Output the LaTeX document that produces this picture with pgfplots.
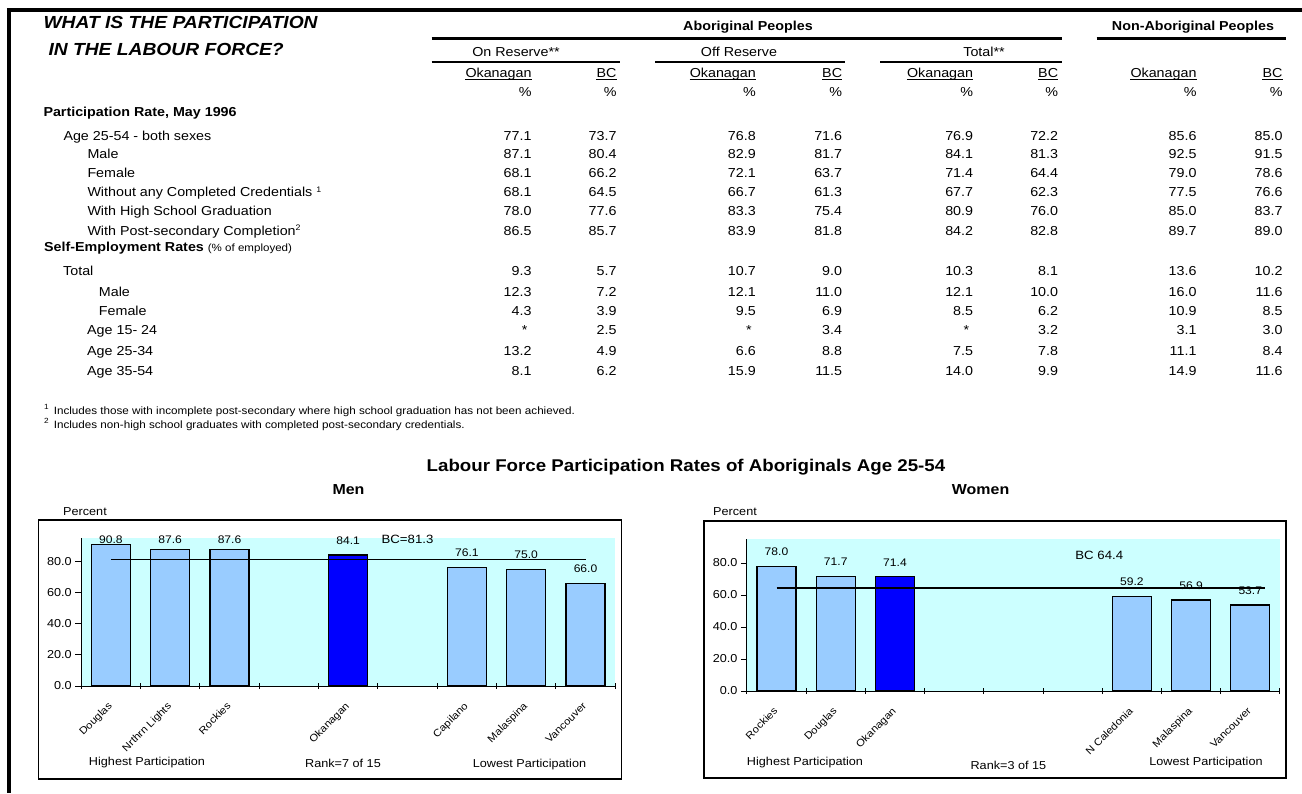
\documentclass[border=0pt]{standalone}
\usepackage{fontspec}
\setmainfont{Liberation Sans}[FakeStretch=1.1]
\usepackage{pgfplots}
\pgfplotsset{compat=1.18}
\usepackage{pgfplotstable}
\definecolor{barlight}{HTML}{99CCFF}
\definecolor{barok}{HTML}{0000FF}
\definecolor{bgcyan}{HTML}{CCFFFF}
\newcommand{\fs}[1]{\fontsize{#1}{#1}\selectfont}
\newcommand{\st}{*\kern4pt}
\newcommand{\tvals}[2]{%
  \foreach \v [count=\i] in {#2} {
    \pgfmathsetmacro{\cx}{{531.7,616.7,756,842.3,973.3,1058.3,1196.7,1282.7}[\i-1]}
    \node[anchor=base east, inner sep=0, font=\fs{13}] at (\cx,-#1) {\v};
  }}
\newcommand{\tlab}[3]{\node[anchor=base west, inner sep=0, font=\fs{13}] at (#1,-#2) {#3};}
\newcommand{\uh}[3]{%
  \node[anchor=base east, inner sep=0, font=\fs{13}] (#3) at (#1,-77) {#2};
  \draw[line width=0.9pt] ([yshift=-2.5pt]#3.base west) -- ([yshift=-2.5pt]#3.base east);
  \node[anchor=base east, inner sep=0, font=\fs{13}] at (#1,-96.5) {\%};}

\pgfplotsset{
 regchart/.style={
   scale only axis,
   xmin=-0.5, xmax=8.5, ymin=0, ymax=95,
   axis x line*=bottom, axis y line*=left,
   axis line style={black, line width=0.9pt},
   axis background/.style={fill=bgcyan},
   xtick={-0.5,0.5,1.5,2.5,3.5,4.5,5.5,6.5,7.5,8.5}, xticklabels={},
   ytick={0,20,40,60,80}, yticklabels={0.0,20.0,40.0,60.0,80.0},
   xtick align=center, ytick align=outside,
   major tick length=6pt,
   tick style={black, line width=0.9pt},
   yticklabel style={font=\fs{11.5}},
   extra x tick style={major tick length=0pt,
      xticklabel style={rotate=45, anchor=north east, font=\fs{10.2}, xshift=-10pt, yshift=-5pt}},
   clip=false,
 },
 regbar/.style={ybar, bar width=39pt, bar shift=0pt, draw=black, line width=1.2pt},
 reglab/.style={draw=none, mark=none, nodes near coords=\pgfplotspointmeta,
   point meta=explicit symbolic,
   every node near coord/.append style={font=\fs{11}, black}},
}

\begin{document}
\begin{tikzpicture}
\begin{scope}[x=1pt,y=1pt]
\useasboundingbox (0,0) rectangle (1302,-793);
\fill[white] (0,0) rectangle (1302,-793);
% page border
\draw[line width=3.5pt] (6.8,-9.8) -- (1302,-9.8);
\draw[line width=4.5pt] (9,-8) -- (9,-793);
% title
\node[anchor=base west, inner sep=0, font=\fs{17.5}\bfseries\itshape] at (43.3,-28) {WHAT IS THE PARTICIPATION};
\node[anchor=base west, inner sep=0, font=\fs{17.5}\bfseries\itshape] at (48.3,-55) {IN THE LABOUR FORCE?};
% headers
\node[anchor=base, inner sep=0, font=\fs{13}\bfseries] at (748,-30) {Aboriginal Peoples};
\node[anchor=base, inner sep=0, font=\fs{13}\bfseries] at (1193,-30) {Non-Aboriginal Peoples};
\draw[line width=3.5pt] (431.7,-38.3) -- (1061.7,-38.3);
\draw[line width=3.5pt] (1096.7,-38.3) -- (1286,-38.3);
\node[anchor=base, inner sep=0, font=\fs{13}] at (516,-56.7) {On Reserve**};
\node[anchor=base, inner sep=0, font=\fs{13}] at (739,-56.7) {Off Reserve};
\node[anchor=base, inner sep=0, font=\fs{13}] at (984,-56.7) {Total**};
\draw[line width=2pt] (431.7,-62.3) -- (620,-62.3);
\draw[line width=2pt] (655,-62.3) -- (845,-62.3);
\draw[line width=2pt] (880,-62.3) -- (1061.7,-62.3);
\uh{531.7}{Okanagan}{h1}\uh{616.7}{BC}{h2}
\uh{756}{Okanagan}{h3}\uh{842.3}{BC}{h4}
\uh{973.3}{Okanagan}{h5}\uh{1058.3}{BC}{h6}
\uh{1196.7}{Okanagan}{h7}\uh{1282.7}{BC}{h8}
% participation rows
\node[anchor=base west, inner sep=0, font=\fs{13}\bfseries] at (43.3,-116) {Participation Rate, May 1996};
\tlab{63.3}{140}{Age 25-54 - both sexes}
\tvals{140}{77.1,73.7,76.8,71.6,76.9,72.2,85.6,85.0}
\tlab{87.3}{158.7}{Male}
\tvals{158.7}{87.1,80.4,82.9,81.7,84.1,81.3,92.5,91.5}
\tlab{87.3}{177.4}{Female}
\tvals{177.4}{68.1,66.2,72.1,63.7,71.4,64.4,79.0,78.6}
\tlab{87.3}{196.6}{Without any Completed Credentials \textsuperscript{\fs{8}1}}
\tvals{196.6}{68.1,64.5,66.7,61.3,67.7,62.3,77.5,76.6}
\tlab{87.3}{215.9}{With High School Graduation}
\tvals{215.9}{78.0,77.6,83.3,75.4,80.9,76.0,85.0,83.7}
\tlab{87.3}{235.3}{With Post-secondary Completion\textsuperscript{\fs{8}2}}
\tvals{235.3}{86.5,85.7,83.9,81.8,84.2,82.8,89.7,89.0}
% self-employment rows
\node[anchor=base west, inner sep=0] at (44,-251) {\fs{13}\bfseries Self-Employment Rates \fs{10.5}\mdseries(\% of employed)};
\tlab{63}{275}{Total}
\tvals{275}{9.3,5.7,10.7,9.0,10.3,8.1,13.6,10.2}
\tlab{98.7}{296.5}{Male}
\tvals{296.5}{12.3,7.2,12.1,11.0,12.1,10.0,16.0,11.6}
\tlab{98.7}{315.5}{Female}
\tvals{315.5}{4.3,3.9,9.5,6.9,8.5,6.2,10.9,8.5}
\tlab{87}{334}{Age 15- 24}
\tvals{334}{\st,2.5,\st,3.4,\st,3.2,3.1,3.0}
\tlab{87}{355}{Age 25-34}
\tvals{355}{13.2,4.9,6.6,8.8,7.5,7.8,11.1,8.4}
\tlab{87}{375}{Age 35-54}
\tvals{375}{8.1,6.2,15.9,11.5,14.0,9.9,14.9,11.6}
% footnotes
\node[anchor=base west, inner sep=0, font=\fs{7.5}] at (44,-409) {1};
\node[anchor=base west, inner sep=0, font=\fs{10.6}] at (53.6,-414) {Includes those with incomplete post-secondary where high school graduation has not been achieved.};
\node[anchor=base west, inner sep=0, font=\fs{7.5}] at (44,-423) {2};
\node[anchor=base west, inner sep=0, font=\fs{10.6}] at (53.6,-428) {Includes non-high school graduates with completed post-secondary credentials.};
% chart titles
\node[font=\fs{17}\bfseries] at (686,-467.5) {Labour Force Participation Rates of Aboriginals Age 25-54};
\node[font=\fs{14.5}\bfseries] at (348.5,-490) {Men};
\node[font=\fs{14.5}\bfseries] at (980.6,-490) {Women};
% boxes
\draw[line width=1.3pt] (38.7,-520) rectangle (621.6,-779);
\draw[line width=1.3pt] (704,-521) rectangle (1286,-778);
\node[font=\fs{11.5}] at (85,-512) {Percent};
\node[font=\fs{11.5}] at (735,-512) {Percent};
\node[font=\fs{11.5}] at (147,-763) {Highest Participation};
\node[font=\fs{11.5}] at (343,-763) {Rank=7 of 15};
\node[font=\fs{11.5}] at (529.5,-765) {Lowest Participation};
\node[font=\fs{11.5}] at (805,-763) {Highest Participation};
\node[font=\fs{11.5}] at (1008.4,-765) {Rank=3 of 15};
\node[font=\fs{11.5}] at (1206,-763) {Lowest Participation};
\end{scope}

% Men chart
\begin{axis}[regchart, at={(81.2pt,-686pt)}, anchor=south west,
  width=534pt, height=148pt,
  extra x ticks={0,1,2,4,6,7,8},
  extra x tick labels={Douglas,Nrthrn Lights,Rockies,Okanagan,Capilano,Malaspina,Vancouver}]
\addplot[regbar, fill=barlight] coordinates {(0,90.8) (1,87.6) (2,87.6) (6,76.1) (7,75.0) (8,66.0)};
\addplot[regbar, fill=barok] coordinates {(4,84.1)};
\addplot[black, line width=1.2pt, mark=none] coordinates {(0,81.3) (8,81.3)};
\addplot[reglab] table[meta=lab] {
x y lab
0 89.2 90.8
1 89.2 87.6
2 89.2 87.6
4 88.6 84.1
6 80.6 76.1
7 79.5 75.0
8 70.5 66.0
};
\node[font=\fs{12}] at (axis cs:5,94.3) {BC=81.3};
\end{axis}

% Women chart
\begin{axis}[regchart, at={(746.9pt,-691pt)}, anchor=south west,
  width=533pt, height=152pt,
  extra x ticks={0,1,2,6,7,8},
  extra x tick labels={Rockies,Douglas,Okanagan,N Caledonia,Malaspina,Vancouver}]
\addplot[regbar, fill=barlight] coordinates {(0,78.0) (1,71.7) (6,59.2) (7,56.9) (8,53.7)};
\addplot[regbar, fill=barok] coordinates {(2,71.4)};
\addplot[black, line width=1.2pt, mark=none] coordinates {(0,64.4) (8.25,64.4)};
\addplot[reglab] table[meta=lab] {
x y lab
0 82.4 78.0
1 76.1 71.7
2 75.8 71.4
6 63.6 59.2
7 61.3 56.9
8 58.1 53.7
};
\node[font=\fs{12}] at (axis cs:5.45,85) {BC 64.4};
\end{axis}
\end{tikzpicture}
\end{document}
